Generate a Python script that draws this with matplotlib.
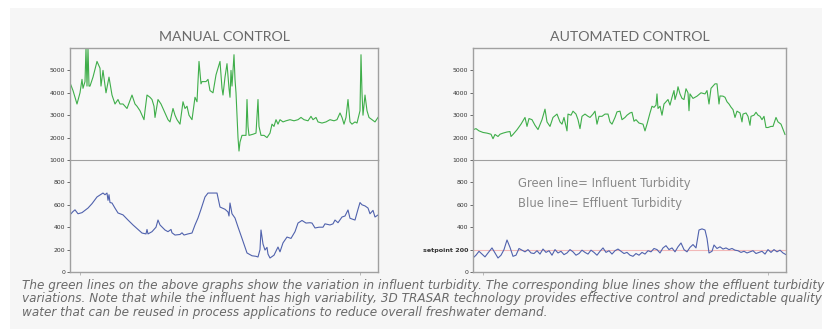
import matplotlib
matplotlib.use("Agg")
import matplotlib.pyplot as plt
from matplotlib.patches import Rectangle

# ---------------- data ----------------
manual_inf_t = [0,3,7,10,12,13,15,16,17,18,19,20,23,27,29,30,31,33,36,39,42,45,48,50,53,55,57,62,65,67,70,72,74,75,77,80,82,84,85,88,91,93,96,98,100,102,103,105,107,110,113,115,117,119,122,125,127,129,131,132,136,138,140,143,146,150,152,153,155,157,159,160,161,162,164,165,166,167,168,169,170,172,176,177,178,179,183,186,188,189,191,194,197,200,202,204,206,208,210,213,216,220,224,228,231,234,238,241,243,246,248,252,256,260,264,267,270,272,274,276,278,280,282,285,287,290,291,292,293,295,297,299,302,305,308]
manual_inf_v = [4450,4100,3500,4000,4600,4200,4500,6000,4300,6000,4300,4300,4700,5400,5200,5100,4300,5000,4000,4700,3900,3500,3700,3500,3500,3400,3300,3900,3500,3400,3200,3000,2800,3200,3900,3800,3700,3400,2900,3700,3500,3300,3000,2800,2700,3100,3300,3000,2800,2600,3600,3300,3400,3000,2800,3800,3600,5400,4400,4500,4500,4600,4100,4000,4800,5400,4200,3900,4700,5300,4200,3800,5000,4300,5700,4600,4000,3000,2000,1400,1800,2100,2100,3700,2500,2100,2150,2200,3700,2500,2100,2100,2000,2200,2600,2500,2800,2600,2800,2700,2750,2800,2750,2800,2900,2800,2750,2950,2800,2900,2700,2650,2700,2800,2750,2800,3100,2900,2600,2900,3700,2700,2600,2700,2650,3200,5700,4000,3000,3900,3200,2900,2800,2700,2900]

manual_eff_t = [0,3,5,8,12,18,22,27,33,35,37,38,39,40,42,45,48,53,58,63,68,72,76,77,78,82,86,88,90,95,98,101,102,105,110,112,114,118,122,125,128,131,135,138,145,147,150,155,158,159,160,162,165,168,172,177,182,186,188,190,191,193,195,197,198,200,204,208,210,213,217,221,225,228,232,236,240,242,245,249,253,255,260,263,265,268,272,275,278,280,283,285,288,290,292,295,298,300,303,305,308]
manual_eff_v = [510,540,555,520,530,571,610,670,705,690,705,640,690,620,616,570,527,510,464,420,380,348,340,380,340,360,400,464,420,375,360,380,350,330,335,350,330,340,348,420,482,560,670,705,705,705,580,560,536,500,616,520,482,402,300,170,145,140,134,200,375,250,196,220,160,125,150,223,180,260,312,300,360,437,460,437,440,437,393,400,400,430,420,430,464,440,491,500,554,480,470,464,560,620,600,590,571,520,550,491,509]

auto_inf_t = [0,3,6,10,14,18,20,22,25,27,30,34,37,38,40,44,48,52,54,56,59,62,65,69,72,74,77,80,84,87,89,91,94,95,98,100,103,105,107,109,112,115,117,120,122,124,126,129,132,135,137,139,142,144,147,149,152,154,157,159,161,163,166,170,172,174,177,179,181,183,184,185,187,189,191,193,195,197,199,201,202,204,205,207,209,211,213,215,216,217,220,224,228,232,234,236,238,242,244,246,247,250,252,254,256,258,260,262,264,267,269,270,273,275,277,278,281,283,285,287,289,291,293,295,298,300,303,305,308,312]
auto_inf_v = [2350,2400,2300,2230,2200,2150,1950,2140,2050,2150,2200,2250,2270,2050,2140,2350,2600,2900,2500,2850,2800,2550,2360,2800,3270,2700,2500,2900,3050,2700,2600,2900,2300,3050,3000,3180,3050,2800,2400,2950,3050,2950,2900,3050,3180,2600,2950,2950,3050,3050,2700,2600,2900,3150,3180,2800,2900,3000,3100,3130,2730,2800,2650,2600,2300,2600,3100,3400,3350,3450,3950,3300,3400,3000,3500,3600,3700,3450,3800,4100,3700,4000,4270,3950,3750,3700,4180,4000,3200,3950,3750,3850,4000,3950,4100,3500,4200,4400,4400,3500,3860,3850,3800,3600,3500,3360,3250,2900,3180,3100,2700,3050,3100,2950,2550,2950,3000,3130,3000,2950,2800,2950,2450,2450,2500,2500,2900,2700,2600,2140]

auto_eff_t = [0,3,6,9,12,15,19,22,25,28,31,34,37,40,43,46,49,52,55,58,61,64,67,70,73,76,79,82,85,88,91,94,97,100,103,106,109,112,115,118,121,124,127,130,133,136,139,142,145,148,151,154,157,160,163,166,169,172,175,178,181,184,187,190,193,196,199,202,205,208,211,214,217,220,223,226,229,232,234,236,239,241,244,247,250,253,256,259,262,265,268,271,274,277,280,283,286,289,292,295,298,301,304,307,310,313]
auto_eff_v = [125,150,185,160,135,170,215,170,125,150,200,286,220,140,150,210,195,180,200,170,165,190,160,205,175,190,150,200,170,185,155,170,200,180,150,165,195,175,160,195,175,150,185,215,175,190,160,190,205,185,165,175,150,140,165,150,175,160,190,180,210,200,170,215,235,200,215,180,225,259,200,180,220,245,215,375,385,375,300,170,185,241,210,225,205,215,200,210,195,190,175,185,170,180,190,165,175,185,160,200,175,200,180,195,170,155]

setpoint = 200
top_ticks = [2000, 3000, 4000, 5000]
bottom_ticks = [0, 200, 400, 600, 800, 1000]
manual_bottom_labels = ["0", "200", "400", "600", "800", "1000"]
auto_bottom_labels = ["0", "setpoint 200", "400", "600", "800", "1000"]
titles = ["MANUAL CONTROL", "AUTOMATED CONTROL"]
legend_lines = ["Green line= Influent Turbidity", "Blue line= Effluent Turbidity"]
caption = ("The green lines on the above graphs show the variation in influent turbidity. The corresponding blue lines show the effluent turbidity\n"
           "variations. Note that while the influent has high variability, 3D TRASAR technology provides effective control and predictable quality\n"
           "water that can be reused in process applications to reduce overall freshwater demand.")

# ---------------- figure ----------------
W, H = 830, 329
fig = plt.figure(figsize=(W / 100, H / 100), dpi=100)
fig.patch.set_facecolor("white")
fig.patches.append(Rectangle((10 / W, 0), 812 / W, 1 - 8 / H, transform=fig.transFigure,
                             facecolor="#f6f6f6", edgecolor="none", zorder=-10))

BG = "#f8f8f8"
SPINE = "#a0a0a0"
GREEN = "#3fae4a"
BLUE = "#5062ad"
TICKC = "#333333"

def px_axes(x0, x1, ytop, ybot):
    return fig.add_axes([x0 / W, 1 - ybot / H, (x1 - x0) / W, (ybot - ytop) / H])

def style(ax, xmax):
    ax.set_facecolor(BG)
    ax.set_xlim(0, xmax)
    for s in ax.spines.values():
        s.set_color(SPINE)
        s.set_linewidth(1.0)
    ax.tick_params(axis="y", labelsize=4.4, colors=TICKC, length=2, width=0.5, pad=1.5)
    ax.tick_params(axis="x", length=2, width=0.5, colors=SPINE)
    ax.set_xticks([10, xmax - 18])
    ax.set_xticklabels([])

panels = [
    (70, 378, 308, manual_inf_t, manual_inf_v, manual_eff_t, manual_eff_v, manual_bottom_labels, titles[0]),
    (473, 786, 313, auto_inf_t, auto_inf_v, auto_eff_t, auto_eff_v, auto_bottom_labels, titles[1]),
]

for i, (x0, x1, xmax, it, iv, et, ev, blabels, title) in enumerate(panels):
    ax_top = px_axes(x0, x1, 48, 160)
    ax_bot = px_axes(x0, x1, 160, 272)
    style(ax_top, xmax)
    style(ax_bot, xmax)

    ax_top.plot(it, iv, color=GREEN, lw=0.8)
    ax_top.set_ylim(1000, 6000)
    ax_top.set_yticks(top_ticks)
    ax_top.set_yticklabels([str(v) for v in top_ticks])
    ax_top.spines["bottom"].set_visible(False)
    ax_top.tick_params(axis="x", bottom=False)

    if i == 1:
        ax_bot.axhline(setpoint, color="#f2b8b8", lw=0.8, zorder=1)
    ax_bot.plot(et, ev, color=BLUE, lw=0.8, zorder=2)
    ax_bot.set_ylim(0, 1000)
    ax_bot.set_yticks(bottom_ticks)
    ax_bot.set_yticklabels(blabels)
    ax_bot.spines["top"].set_linewidth(0.8)
    if i == 1:
        lab = ax_bot.get_yticklabels()[1]
        lab.set_fontweight("bold")
        lab.set_fontsize(4.6)

    fig.text((x0 + x1) / 2 / W, 1 - 37 / H, title, ha="center", va="center",
             fontsize=10.2, color="#6a6a6a", family="Lato")

    if i == 1:
        fig.text(518 / W, 1 - 184 / H, legend_lines[0], ha="left", va="center",
                 fontsize=8.4, color="#8a8a8a")
        fig.text(518 / W, 1 - 204 / H, legend_lines[1], ha="left", va="center",
                 fontsize=8.4, color="#8a8a8a")

fig.text(22 / W, 1 - 279 / H, caption, ha="left", va="top", fontsize=8.65,
         style="italic", color="#6a6a6a", family="DejaVu Sans", linespacing=1.03)

fig.savefig("out.png", dpi=100, facecolor=fig.get_facecolor())
